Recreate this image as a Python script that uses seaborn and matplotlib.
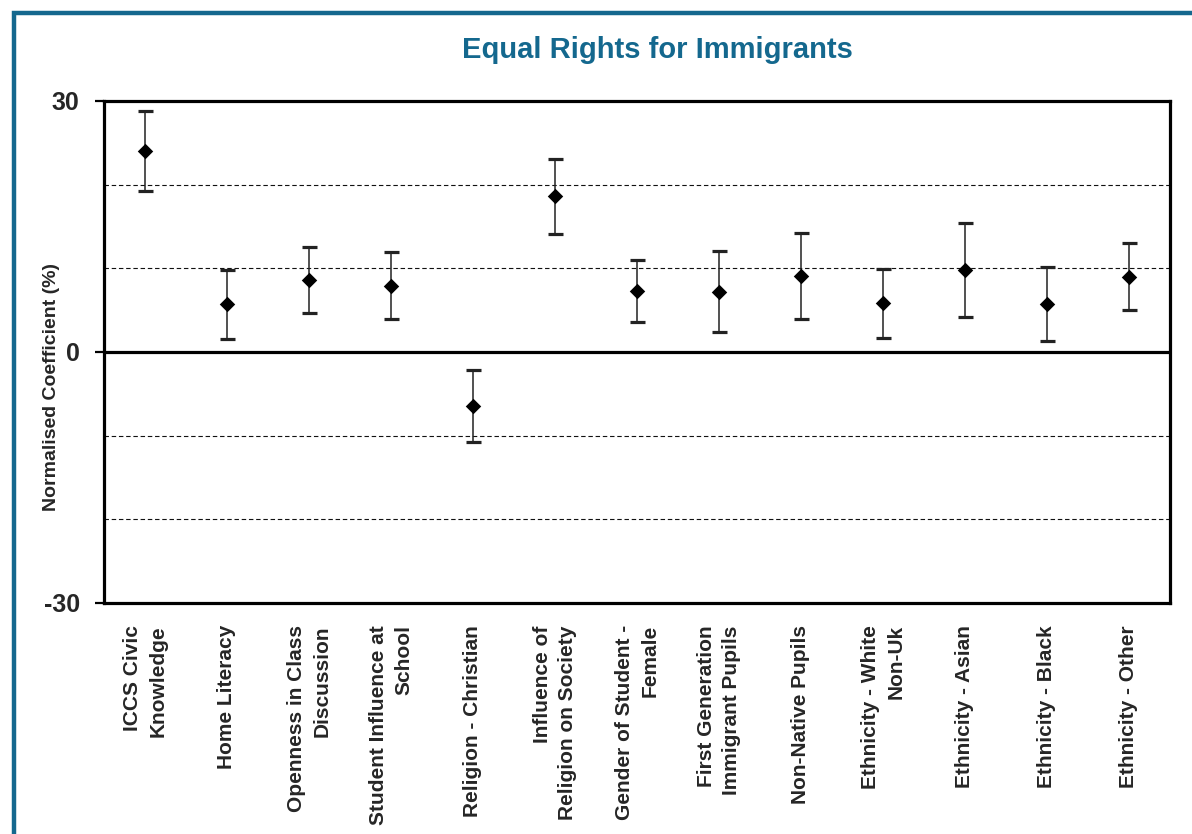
import matplotlib
matplotlib.use("Agg")
import matplotlib.pyplot as plt
import seaborn as sns
import pandas as pd
from matplotlib.patches import Rectangle

# Predictor names shown along the x axis
categories = [
    "ICCS Civic\nKnowledge",
    "Home Literacy",
    "Openness in Class\nDiscussion",
    "Student Influence at\nSchool",
    "Religion - Christian",
    "Influence of\nReligion on Society",
    "Gender of Student -\nFemale",
    "First Generation\nImmigrant Pupils",
    "Non-Native Pupils",
    "Ethnicity - White\nNon-Uk",
    "Ethnicity - Asian",
    "Ethnicity - Black",
    "Ethnicity - Other",
]

# Normalised coefficients (%) and the half-width of each interval
coefficients = [24.0, 5.7, 8.6, 7.9, -6.5, 18.6, 7.3, 7.2, 9.1, 5.8, 9.8, 5.7, 9.0]
half_widths = [4.75, 4.1, 3.95, 4.0, 4.3, 4.5, 3.75, 4.85, 5.1, 4.15, 5.6, 4.4, 4.0]

y_ticks = [30, 0, -30]
y_tick_labels = ["30", "0", "-30"]
grid_levels = [20, 10, -10, -20]

TEAL = "#14688e"

sns.set_theme(style="white")
plt.rcParams["font.family"] = ["Liberation Sans", "DejaVu Sans"]
plt.rcParams["font.weight"] = "bold"

df = pd.DataFrame({"variable": categories, "coef": coefficients, "err": half_widths})

fig = plt.figure(figsize=(11.92, 8.34), dpi=100)
ax = fig.add_axes([104 / 1192, 1 - 603 / 834, (1170 - 104) / 1192, (603 - 101) / 834])

# Reference lines
for lvl in grid_levels:
    ax.axhline(lvl, color="#111111", lw=0.8, ls=(0, (4, 2.5)), zorder=1)
ax.axhline(0, color="black", lw=2.3, zorder=1)

# Diamonds for the point estimates
sns.scatterplot(data=df, x="variable", y="coef", marker="D", color="black",
                s=62, linewidth=0, ax=ax, zorder=3, legend=False)

# Interval bars with flat caps
ax.errorbar(df["variable"], df["coef"], yerr=df["err"], fmt="none",
            ecolor="#222222", elinewidth=1.1, capsize=5.4, capthick=2.3, zorder=2)

ax.set_xlim(-0.5, len(categories) - 0.5)
ax.set_ylim(-30, 30)
ax.set_yticks(y_ticks)
ax.set_yticklabels(y_tick_labels, fontsize=18, fontweight="bold")
ax.tick_params(axis="y", left=True, length=6.5, width=1.6, pad=11, color="black")
ax.tick_params(axis="x", bottom=False, length=0, pad=16)

ax.set_xticks(range(len(categories)))
ax.set_xticklabels(categories, rotation=90, ha="center", va="top",
                   multialignment="right", linespacing=1.45,
                   fontsize=15, fontweight="bold")

for spine in ax.spines.values():
    spine.set_color("black")
    spine.set_linewidth(2.3)

ax.set_xlabel("")
ax.set_ylabel("Normalised Coefficient (%)", fontsize=14, fontweight="bold")
ax.yaxis.set_label_coords(-0.041, 0.43)

fig.text(657 / 1192, 1 - 50 / 834, "Equal Rights for Immigrants", ha="center",
         va="center", fontsize=21, fontweight="bold", color=TEAL)

# Framing border around the chart area
border = Rectangle((14 / 1192, -0.1), 1.2, 1 - 13 / 834 + 0.1, transform=fig.transFigure,
                   fill=False, edgecolor=TEAL, lw=3.2, clip_on=False)
fig.add_artist(border)

fig.savefig("out.png", dpi=100)
